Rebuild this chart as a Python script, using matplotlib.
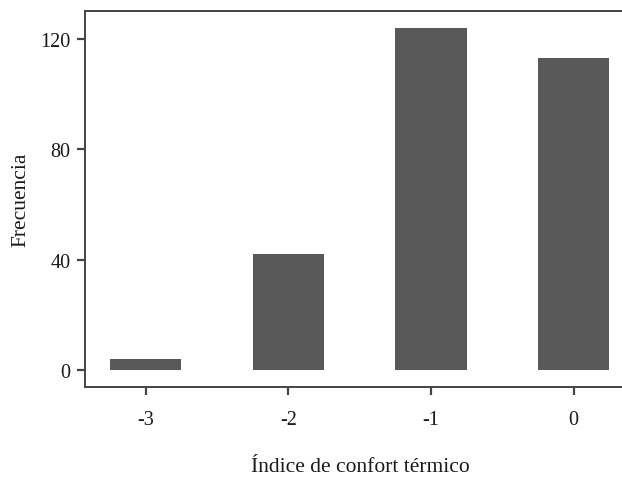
import matplotlib
matplotlib.use('Agg')
import matplotlib.pyplot as plt

# datos
categorias = ['-3', '-2', '-1', '0']
frecuencias = [4, 42, 124, 113]
ticks_y = [0, 40, 80, 120]

plt.rcParams['font.family'] = ['Liberation Serif', 'DejaVu Serif']

W, H = 622, 481
fig = plt.figure(figsize=(W / 100, H / 100), dpi=100)

# panel: izquierda 85 px, arriba 12 px, abajo 388 px (el borde derecho queda recortado)
izq, der, arr, aba = 85, 635, 12, 388
ax = fig.add_axes([izq / W, 1 - aba / H, (der - izq) / W, (aba - arr) / H])

x = range(len(categorias))
ax.bar(x, frecuencias, width=0.5, color='#595959', edgecolor='none')

ax.set_xlim(-0.424, 3.43)
ax.set_ylim(-6.2, 130.2)
ax.set_xticks(list(x))
ax.set_xticklabels(categorias)
ax.set_yticks(ticks_y)

for lado in ['left', 'bottom', 'top']:
    ax.spines[lado].set_color('#444444')
    ax.spines[lado].set_linewidth(1.4)
ax.spines['right'].set_visible(False)

ax.tick_params(axis='both', length=5.5, width=1.6, color='#444444',
               labelsize=14.5, labelcolor='#1a1a1a', pad=5)
ax.tick_params(axis='x', pad=11)

ax.set_xlabel('Índice de confort térmico', fontsize=15.5, color='#1a1a1a', labelpad=20)
ax.set_ylabel('Frecuencia', fontsize=15.5, color='#1a1a1a', labelpad=7)

fig.savefig('out.png', dpi=100)
